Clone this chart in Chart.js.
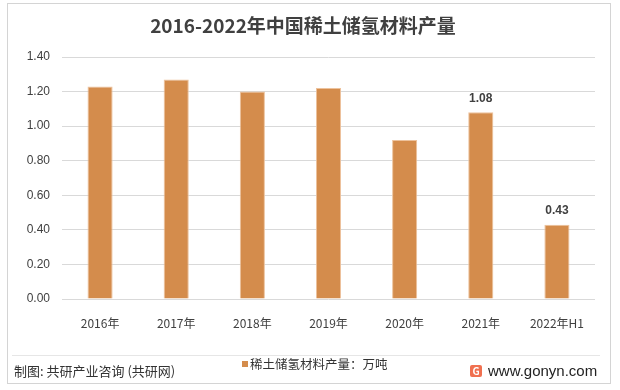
<!DOCTYPE html>
<html>
<head>
<meta charset="utf-8">
<script src="https://cdn.jsdelivr.net/npm/chart.js@4"></script>
<style>
  html, body { margin: 0; padding: 0; background: #fff; }
  body { width: 620px; height: 390px; position: relative; overflow: hidden;
         font-family: "Noto Sans CJK SC", "Noto Sans", sans-serif; }
  #wrap { position: absolute; left: 0; top: 0; width: 620px; height: 390px; }
  .frame { position: absolute; left: 7px; top: 3px; width: 604px; height: 381px;
           border: 1px solid #d4d4d4; box-sizing: border-box; pointer-events: none; }
  .sep { position: absolute; left: 12px; top: 355px; width: 588px; height: 1px; background: #e6e6e6; }
  .title { position: absolute; left: 0; width: 606px; top: 12px; text-align: center;
           font-size: 19px; font-weight: bold; color: #404040; line-height: 26px; }
  .src { position: absolute; left: 14px; top: 362px; font-size: 13px; color: #333; line-height: 18px; }
  .legend { position: absolute; left: 242px; top: 356px; font-size: 12.5px; color: #333; line-height: 16px; }
  .legend i { display: inline-block; width: 6px; height: 6px; background: #D48C4C; margin-right: 2px; vertical-align: 2px; }
  .site { position: absolute; left: 488px; top: 361px; font-size: 15px; color: #222; line-height: 20px;
          font-family: "Liberation Sans", Arial, sans-serif; }
  .logo { position: absolute; left: 470px; top: 365px; width: 12px; height: 12px; background: #f07050;
          border-radius: 2px; color: #fff; font-size: 10px; line-height: 12px; text-align: center; font-weight: bold; }
</style>
</head>
<body>
<div id="wrap"><canvas id="c" width="620" height="390"></canvas></div>
<div class="frame"></div>
<div class="title">2016-2022年中国稀土储氢材料产量</div>
<div class="sep"></div>
<div class="src">制图: 共研产业咨询 (共研网)</div>
<div class="legend"><i></i>稀土储氢材料产量：万吨</div>
<div class="logo">G</div>
<div class="site">www.gonyn.com</div>
<script>
// ── Datos ─────────────────────────────────────────────
const categorias = ['2016年', '2017年', '2018年', '2019年', '2020年', '2021年', '2022年H1'];
const produccion = [1.23, 1.27, 1.20, 1.22, 0.92, 1.08, 0.43];
const conEtiqueta = [false, false, false, false, false, true, true];
const ticksY = [0, 0.2, 0.4, 0.6, 0.8, 1.0, 1.2, 1.4];

// etiquetas de valor solo en las dos últimas barras
const etiquetas = {
    id: 'etiquetas',
    afterDatasetsDraw(chart) {
        const ctx = chart.ctx;
        const meta = chart.getDatasetMeta(0);
        ctx.save();
        ctx.font = 'bold 12px "Liberation Sans", Arial, sans-serif';
        ctx.fillStyle = '#404040';
        ctx.textAlign = 'center';
        ctx.textBaseline = 'bottom';
        meta.data.forEach((bar, i) => {
            if (!conEtiqueta[i]) return;
            ctx.fillText(produccion[i].toFixed(2), bar.x, bar.y - 8);
        });
        ctx.restore();
    }
};

new Chart(document.getElementById('c'), {
    type: 'bar',
    data: {
        labels: categorias,
        datasets: [{
            data: produccion,
            backgroundColor: '#D48C4C',
            borderColor: '#EDC29C',
            borderWidth: 1,
            categoryPercentage: 1,
            barPercentage: 0.33,
        }],
    },
    options: {
        responsive: false,
        animation: false,
        layout: { padding: { top: 57, right: 25, left: 0, bottom: 0 } },
        plugins: { legend: { display: false }, tooltip: { enabled: false } },
        scales: {
            x: {
                grid: { display: false },
                border: { display: false },
                ticks: { color: '#404040', font: { size: 12, family: '"Noto Sans CJK SC", sans-serif' }, padding: 9, maxRotation: 0 },
                afterFit: s => { s.height = 91; },
            },
            y: {
                min: 0, max: 1.4,
                afterBuildTicks: s => { s.ticks = ticksY.map(v => ({ value: v })); },
                ticks: { color: '#404040', font: { size: 12, family: '"Liberation Sans", Arial, sans-serif' }, padding: 12,
                         callback: v => v.toFixed(2) },
                grid: { color: '#d9d9d9', drawTicks: false },
                border: { display: false },
                afterFit: s => { s.width = 62; },
            },
        },
    },
    plugins: [etiquetas],
});
</script>
</body>
</html>
